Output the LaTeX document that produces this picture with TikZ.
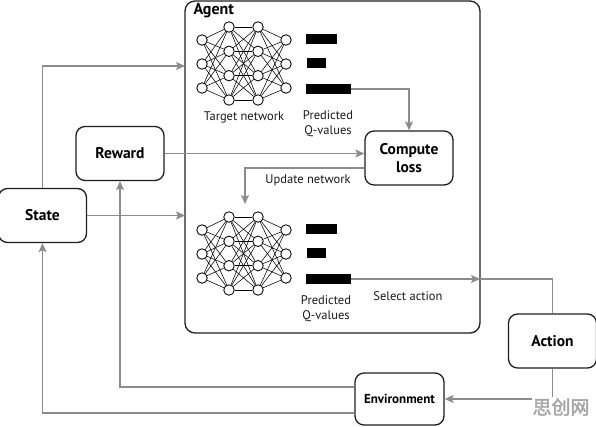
\documentclass[tikz,border=0pt]{standalone}
\usepackage{fontspec}
\setmainfont{PT Sans}
\newfontfamily\cjkfont[FakeBold=2]{Noto Sans CJK SC}
\usetikzlibrary{arrows.meta}
\definecolor{conn}{RGB}{140,140,140}
\definecolor{boxline}{RGB}{30,30,30}
\begin{document}
\begin{tikzpicture}[x=1pt,y=-1pt,
  box/.style={draw=boxline, line width=1.3pt, rounded corners=9pt, fill=white,
    font=\bfseries\fontsize{15.5}{17}\selectfont, align=center, inner sep=0pt,
    minimum width=88pt, minimum height=54pt},
  link/.style={draw=conn, line width=1.2pt},
  arr/.style={link, -{Stealth[length=9pt,width=8pt,inset=2pt]}},
  neuron/.style={circle, draw=black, line width=0.85pt, fill=white, minimum size=10.5pt, inner sep=0pt},
  syn/.style={draw=black, line width=0.55pt},
  qbar/.style={fill=black, inner sep=0pt, minimum height=10.5pt},
  lbl/.style={font=\fontsize{12.5}{15}\selectfont, align=center, text=black!90},
]
\useasboundingbox (0,0) rectangle (596,426);

% Agent container
\node[draw=boxline, line width=1.3pt, rounded corners=10pt, minimum width=295pt, minimum height=332pt, inner sep=0pt] (agent) at (332.5,167) {};
\node[anchor=west, font=\bfseries\fontsize{16}{17}\selectfont] (agentlbl) at (190,11) {Agent};
\coordinate (aW) at (185,0);
\coordinate (aE) at (480,0);

% Networks
\foreach \off/\n in {0/t,190/p}{
  \foreach \i/\y in {1/40,2/64,3/88}{
    \node[neuron] (\n-a-\i) at (202,\y+\off) {};
    \node[neuron] (\n-d-\i) at (286,\y+\off) {};
  }
  \foreach \i/\y in {1/27,2/51.3,3/75.7,4/100}{
    \node[neuron] (\n-b-\i) at (229,\y+\off) {};
    \node[neuron] (\n-c-\i) at (258,\y+\off) {};
  }
  \foreach \i in {1,2,3}{
    \foreach \j in {1,2,3,4}{
      \draw[syn] (\n-a-\i) -- (\n-b-\j);
      \draw[syn] (\n-c-\j) -- (\n-d-\i);
    }
  }
  \foreach \i in {1,2,3,4}{
    \foreach \j in {1,2,3,4}{
      \draw[syn] (\n-b-\i) -- (\n-c-\j);
    }
  }
  \node[qbar, minimum width=31pt] (\n-q1) at (321.5,39+\off) {};
  \node[qbar, minimum width=19pt] (\n-q2) at (316.5,63+\off) {};
  \node[qbar, minimum width=45pt] (\n-q3) at (328.5,89+\off) {};
}

% Labels inside agent
\node[lbl] (tn) at (244,117) {Target network};
\node[lbl] (pq1) at (328,124) {Predicted\\Q-values};
\node[lbl] (pq2) at (326,309) {Predicted\\Q-values};
\node[lbl] (upd) at (308,180) {Update network};
\node[lbl] (sel) at (408,296) {Select action};

% Boxes
\node[box] (state) at (42.5,215.5) {State};
\node[box] (reward) at (120,153.5) {Reward};
\node[box, font=\bfseries\fontsize{15.5}{18}\selectfont] (loss) at (409,158) {Compute\\loss};
\node[box] (action) at (552.5,341) {Action};
\node[box, minimum width=89pt, minimum height=52pt, font=\bfseries\fontsize{13}{14}\selectfont] (env) at (399.5,399) {Environment};

% Connectors
\coordinate (updTip) at (245,204);
\draw[arr] (state.north) |- (aW |- 0,66);
\draw[arr] (state.east) -- (state.east -| aW);
\draw[arr] (reward.east) -- (reward.east -| loss.west);
\draw[arr] ([yshift=-10pt]loss.west) -| (updTip);
\draw[arr] (t-q3.east) -| (loss.north);
\draw[arr] (p-q3.east) -- (p-q3.east -| aE);
\draw[link] (p-q3.east -| aE) -| (action.north);
\draw[arr] (action.south) |- (env.east);
\draw[arr] ([yshift=12pt]env.west) -| (reward.south);
\draw[arr] ([yshift=-14pt]env.west) -| (state.south);

% Watermark
\node[fill=white, inner sep=1pt, text=gray!70, font=\cjkfont\fontsize{19}{19}\selectfont] (wm) at (561,407) {思创网};
\end{tikzpicture}
\end{document}
